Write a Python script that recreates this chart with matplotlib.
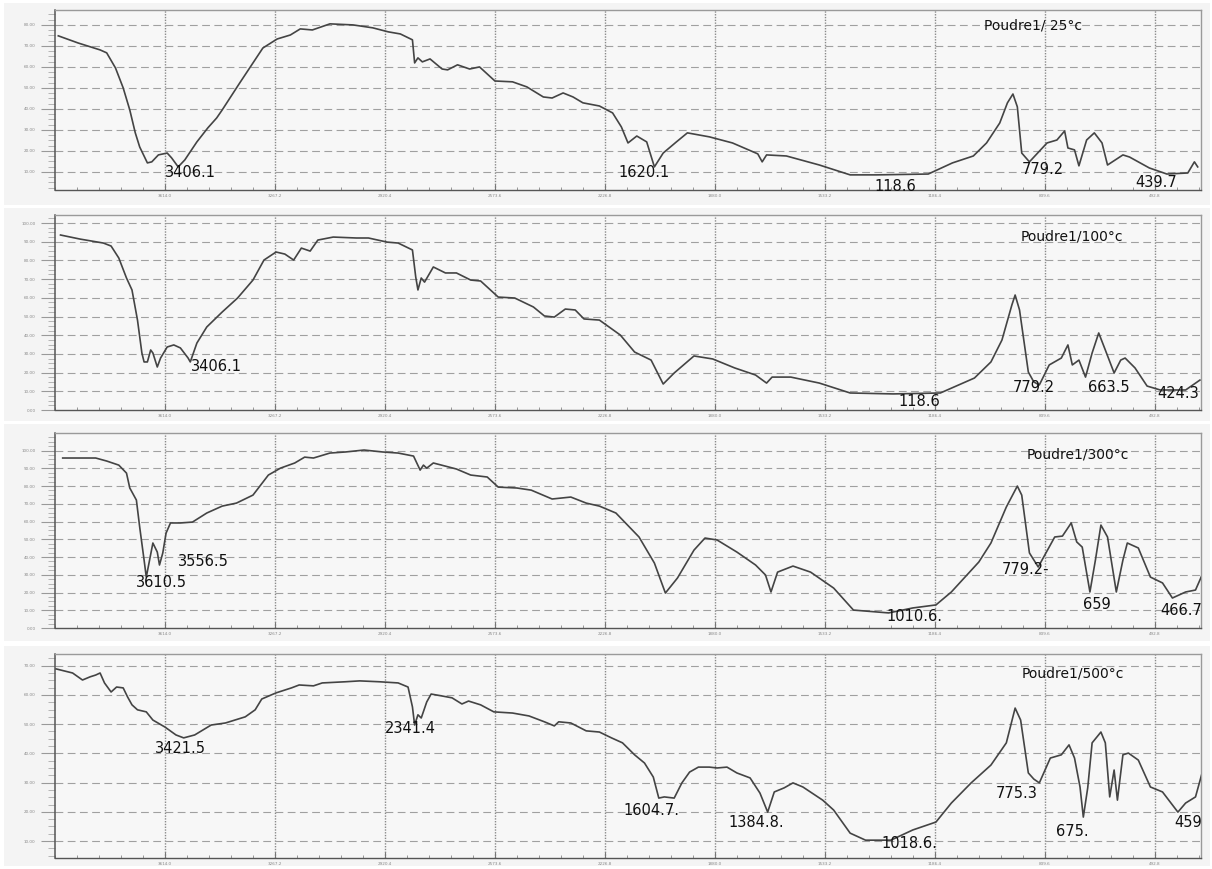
import matplotlib
matplotlib.use('Agg')
import matplotlib.pyplot as plt
from matplotlib.ticker import MultipleLocator, FixedLocator
from matplotlib.patches import Rectangle

# ---------------- data (x in grid units, y in panel transmittance units) ----------------
p1_x = [0.03, 0.21, 0.41, 0.47, 0.55, 0.62, 0.68, 0.73, 0.77, 0.84, 0.88, 0.94, 1.02, 1.06, 1.12, 1.18,
        1.29, 1.39, 1.47, 1.52, 1.68, 1.89, 2.02, 2.14, 2.23, 2.34, 2.50, 2.71, 2.89, 3.03, 3.14, 3.25,
        3.27, 3.30, 3.34, 3.41, 3.52, 3.57, 3.66, 3.77, 3.86, 4.00, 4.16, 4.29, 4.44, 4.52, 4.62, 4.71,
        4.80, 4.95, 5.07, 5.15, 5.21, 5.29, 5.38, 5.45, 5.53, 5.65, 5.75, 5.95, 6.16, 6.39, 6.43, 6.47,
        6.65, 6.95, 7.23, 7.47, 7.94, 8.16, 8.35, 8.47, 8.59, 8.66, 8.71, 8.75, 8.79, 8.86, 9.02, 9.11,
        9.18, 9.21, 9.27, 9.31, 9.38, 9.45, 9.52, 9.57, 9.71, 9.77, 9.95, 10.11, 10.30, 10.36, 10.39]
p1_y = [7.48, 7.14, 6.81, 6.67, 5.95, 5.00, 3.95, 2.86, 2.19, 1.43, 1.48, 1.81, 1.90, 1.67, 1.24, 1.57,
        2.43, 3.10, 3.57, 3.95, 5.24, 6.90, 7.33, 7.52, 7.81, 7.76, 8.05, 8.00, 7.86, 7.67, 7.57, 7.29,
        6.19, 6.43, 6.24, 6.38, 5.90, 5.86, 6.10, 5.90, 6.00, 5.33, 5.29, 5.05, 4.57, 4.52, 4.76, 4.57,
        4.29, 4.14, 3.81, 3.14, 2.38, 2.71, 2.43, 1.24, 1.90, 2.43, 2.86, 2.67, 2.38, 1.86, 1.48, 1.81,
        1.76, 1.33, 0.86, 0.86, 0.90, 1.43, 1.76, 2.38, 3.33, 4.29, 4.71, 4.10, 1.90, 1.48, 2.38, 2.52,
        2.95, 2.14, 2.05, 1.29, 2.52, 2.86, 2.38, 1.33, 1.81, 1.71, 1.19, 0.90, 0.95, 1.48, 1.24]

p2_x = [0.05, 0.23, 0.44, 0.51, 0.58, 0.65, 0.70, 0.75, 0.79, 0.81, 0.84, 0.87, 0.89, 0.93, 0.96, 1.02,
        1.08, 1.14, 1.21, 1.23, 1.29, 1.38, 1.52, 1.66, 1.80, 1.90, 2.01, 2.09, 2.17, 2.24, 2.32, 2.39,
        2.53, 2.74, 2.85, 3.02, 3.12, 3.25, 3.28, 3.30, 3.33, 3.36, 3.44, 3.55, 3.65, 3.78, 3.87, 4.03,
        4.18, 4.35, 4.45, 4.54, 4.64, 4.73, 4.81, 4.95, 5.14, 5.27, 5.42, 5.53, 5.63, 5.81, 5.98, 6.18,
        6.37, 6.47, 6.52, 6.69, 6.95, 7.23, 7.62, 8.05, 8.36, 8.51, 8.61, 8.70, 8.73, 8.77, 8.85, 8.90,
        8.95, 9.04, 9.15, 9.21, 9.25, 9.31, 9.37, 9.43, 9.49, 9.55, 9.63, 9.69, 9.73, 9.82, 9.93, 10.05,
        10.28, 10.41]
p2_y = [9.36, 9.14, 8.93, 8.77, 8.13, 7.06, 6.42, 4.81, 3.05, 2.57, 2.57, 3.21, 3.05, 2.30, 2.78, 3.37,
        3.48, 3.32, 2.78, 2.57, 3.58, 4.44, 5.24, 5.99, 6.95, 8.02, 8.45, 8.34, 8.02, 8.66, 8.50, 9.09,
        9.25, 9.20, 9.20, 8.98, 8.93, 8.56, 7.11, 6.42, 7.06, 6.84, 7.65, 7.33, 7.33, 6.95, 6.90, 6.04,
        5.99, 5.51, 5.03, 4.97, 5.40, 5.35, 4.87, 4.81, 4.01, 3.10, 2.67, 1.39, 1.98, 2.89, 2.73, 2.25,
        1.87, 1.44, 1.76, 1.76, 1.44, 0.91, 0.86, 0.91, 1.71, 2.57, 3.74, 5.61, 6.15, 5.35, 2.03, 1.50,
        1.34, 2.41, 2.78, 3.48, 2.41, 2.67, 1.76, 3.05, 4.12, 3.21, 1.98, 2.67, 2.78, 2.25, 1.28, 1.07,
        1.07, 1.60]

p3_x = [0.07, 0.23, 0.37, 0.47, 0.58, 0.65, 0.68, 0.74, 0.77, 0.81, 0.83, 0.86, 0.89, 0.93, 0.95, 0.98,
        1.01, 1.05, 1.14, 1.25, 1.38, 1.52, 1.65, 1.80, 1.94, 2.05, 2.18, 2.27, 2.35, 2.50, 2.64, 2.81,
        2.98, 3.12, 3.26, 3.32, 3.35, 3.38, 3.44, 3.65, 3.78, 3.93, 4.03, 4.20, 4.33, 4.52, 4.69, 4.83,
        4.95, 5.10, 5.31, 5.45, 5.55, 5.66, 5.81, 5.91, 6.02, 6.20, 6.37, 6.46, 6.51, 6.57, 6.71, 6.87,
        7.08, 7.26, 7.58, 7.80, 8.01, 8.15, 8.40, 8.51, 8.65, 8.75, 8.79, 8.86, 8.94, 9.09, 9.16, 9.24,
        9.29, 9.34, 9.41, 9.46, 9.51, 9.57, 9.65, 9.71, 9.75, 9.85, 9.96, 10.07, 10.16, 10.28, 10.37,
        10.45]
p3_y = [9.58, 9.58, 9.58, 9.41, 9.18, 8.73, 7.89, 7.21, 5.69, 3.83, 2.87, 3.83, 4.79, 4.28, 3.55, 4.23,
        5.35, 5.92, 5.92, 5.97, 6.48, 6.87, 7.04, 7.49, 8.62, 9.01, 9.30, 9.63, 9.58, 9.86, 9.92, 10.03,
        9.92, 9.86, 9.69, 8.90, 9.18, 9.01, 9.30, 8.96, 8.62, 8.51, 7.94, 7.89, 7.77, 7.27, 7.38, 7.04,
        6.87, 6.48, 5.13, 3.66, 1.97, 2.82, 4.39, 5.07, 4.96, 4.28, 3.55, 2.99, 2.03, 3.15, 3.49, 3.15,
        2.25, 1.01, 0.85, 1.13, 1.30, 2.03, 3.72, 4.79, 6.82, 8.00, 7.49, 4.23, 3.44, 5.13, 5.18, 5.92,
        4.85, 4.56, 2.03, 3.83, 5.80, 5.13, 2.03, 3.83, 4.79, 4.51, 2.87, 2.54, 1.69, 2.03, 2.14,
        3.27]

p4_x = [0.01, 0.16, 0.25, 0.32, 0.37, 0.41, 0.45, 0.51, 0.56, 0.62, 0.66, 0.70, 0.75, 0.83, 0.89, 1.00,
        1.10, 1.17, 1.27, 1.42, 1.55, 1.73, 1.82, 1.88, 2.01, 2.15, 2.22, 2.35, 2.43, 2.64, 2.77, 2.95,
        3.12, 3.21, 3.25, 3.27, 3.30, 3.33, 3.38, 3.42, 3.51, 3.61, 3.70, 3.76, 3.87, 3.99, 4.16, 4.31,
        4.45, 4.54, 4.58, 4.69, 4.83, 4.95, 5.06, 5.16, 5.27, 5.36, 5.44, 5.49, 5.54, 5.63, 5.70, 5.77,
        5.85, 5.95, 6.02, 6.11, 6.20, 6.32, 6.41, 6.48, 6.54, 6.63, 6.71, 6.80, 6.98, 7.08, 7.23, 7.37,
        7.60, 7.80, 8.01, 8.15, 8.33, 8.51, 8.65, 8.73, 8.78, 8.85, 8.90, 8.95, 9.05, 9.15, 9.22, 9.27,
        9.32, 9.35, 9.39, 9.43, 9.51, 9.55, 9.59, 9.63, 9.66, 9.71, 9.76, 9.85, 9.96, 10.07, 10.21,
        10.28, 10.37, 10.43]
p4_y = [6.89, 6.75, 6.51, 6.62, 6.68, 6.75, 6.41, 6.10, 6.27, 6.24, 5.93, 5.66, 5.49, 5.42, 5.14, 4.90,
        4.63, 4.53, 4.63, 4.97, 5.04, 5.25, 5.49, 5.86, 6.07, 6.24, 6.34, 6.31, 6.41, 6.45, 6.48, 6.45,
        6.41, 6.27, 5.59, 4.97, 5.32, 5.21, 5.76, 6.03, 5.97, 5.90, 5.69, 5.79, 5.66, 5.42, 5.38, 5.28,
        5.08, 4.94, 5.08, 5.04, 4.77, 4.73, 4.53, 4.36, 3.95, 3.67, 3.19, 2.47, 2.51, 2.47, 2.99, 3.36,
        3.53, 3.53, 3.50, 3.53, 3.33, 3.16, 2.64, 1.99, 2.68, 2.82, 2.99, 2.85, 2.40, 2.06, 1.27, 1.03,
        1.03, 1.38, 1.65, 2.30, 2.99, 3.60, 4.36, 5.55, 5.14, 3.33, 3.12, 2.99, 3.84, 3.95, 4.29, 3.84,
        2.85, 1.82, 2.82, 4.36, 4.73, 4.36, 2.51, 3.43, 2.40, 3.95, 4.01, 3.77, 2.85, 2.68, 1.99,
        2.30, 2.51, 3.33]

p1_title = 'Poudre1/ 25°c'
p2_title = 'Poudre1/100°c'
p3_title = 'Poudre1/300°c'
p4_title = 'Poudre1/500°c'

p1_labels = ['3406.1', '1620.1', '118.6', '779.2', '439.7']
p1_label_x = [1.00, 5.12, 7.45, 8.79, 9.82]
p1_label_y = [0.95, 0.95, 0.29, 1.10, 0.48]

p2_labels = ['3406.1', '118.6', '779.2', '663.5', '424.3']
p2_label_x = [1.24, 7.67, 8.71, 9.39, 10.02]
p2_label_y = [2.30, 0.48, 1.18, 1.18, 0.86]

p3_labels = ['3610.5', '3556.5', '1010.6.', '779.2-', '659', '466.7']
p3_label_x = [0.74, 1.12, 7.56, 8.61, 9.35, 10.05]
p3_label_y = [2.54, 3.77, 0.62, 3.32, 1.35, 1.01]

p4_labels = ['3421.5', '2341.4', '1604.7.', '1384.8.', '1018.6.', '775.3', '675.', '459']
p4_label_x = [0.91, 3.00, 5.17, 6.12, 7.51, 8.55, 9.10, 10.18]
p4_label_y = [4.18, 4.84, 2.03, 1.62, 0.93, 2.61, 1.34, 1.62]

x_grid_labels = ['3614.0', '3267.2', '2920.4', '2573.6', '2226.8', '1880.0', '1533.2', '1186.4', '839.6', '492.8']

# ---------------- layout ----------------
W, H = 1212, 869
fig = plt.figure(figsize=(W / 100, H / 100), dpi=100)
fig.patch.set_facecolor('white')


def px_axes(x0, y0, x1, y1):
    return fig.add_axes([x0 / W, 1 - y1 / H, (x1 - x0) / W, (y1 - y0) / H])


def bg(x0, y0, x1, y1):
    fig.patches.append(Rectangle((x0 / W, 1 - y1 / H), (x1 - x0) / W, (y1 - y0) / H,
                                 transform=fig.transFigure, facecolor='#f4f4f4',
                                 edgecolor='none', zorder=-10))


panels = [
    dict(bg=(4, 3, 1210, 205), box=(55, 10, 1201, 190), ylim=(0.14, 8.71), ngrid=8,
         x=p1_x, y=p1_y, title=p1_title, tpos=(8.45, 7.95),
         labels=p1_labels, lx=p1_label_x, ly=p1_label_y),
    dict(bg=(4, 208, 1210, 421), box=(55, 215, 1201, 410), ylim=(0.0, 10.43), ngrid=10,
         x=p2_x, y=p2_y, title=p2_title, tpos=(8.78, 9.30),
         labels=p2_labels, lx=p2_label_x, ly=p2_label_y),
    dict(bg=(4, 424, 1210, 641), box=(55, 433, 1201, 628), ylim=(0.0, 10.99), ngrid=10,
         x=p3_x, y=p3_y, title=p3_title, tpos=(8.83, 9.80),
         labels=p3_labels, lx=p3_label_x, ly=p3_label_y),
    dict(bg=(4, 646, 1210, 866), box=(55, 654, 1201, 858), ylim=(0.42, 7.40), ngrid=7,
         x=p4_x, y=p4_y, title=p4_title, tpos=(8.79, 6.72),
         labels=p4_labels, lx=p4_label_x, ly=p4_label_y),
]

for p in panels:
    bg(*p['bg'])
    ax = px_axes(*p['box'])
    ax.set_facecolor('#f7f7f7')
    ax.set_xlim(0, 10.42)
    ax.set_ylim(*p['ylim'])
    # grid
    for gx in range(1, 11):
        ax.axvline(gx, color='#8a8a8a', lw=1.0, ls=(0, (1, 1)), zorder=1)
    for gy in range(1, p['ngrid'] + 1):
        ax.axhline(gy, color='#a0a0a0', lw=0.8, ls=(0, (7, 4)), zorder=1)
    # spectrum
    ax.plot(p['x'], p['y'], color='#444444', lw=1.2, zorder=3, solid_joinstyle='round')
    # title
    ax.text(p['tpos'][0], p['tpos'][1], p['title'], fontsize=10, color='#111111',
            ha='left', va='center', zorder=4)
    for lab, lx, ly in zip(p['labels'], p['lx'], p['ly']):
        ax.text(lx, ly, lab, fontsize=10.5, color='#111111', ha='left', va='center',
                zorder=4, clip_on=False)
    # ticks
    ax.xaxis.set_major_locator(FixedLocator(list(range(1, 11))))
    ax.set_xticklabels(x_grid_labels)
    ax.xaxis.set_minor_locator(MultipleLocator(0.2))
    ax.tick_params(axis='x', which='major', direction='in', length=4, labelsize=3,
                   labelcolor='#888888', color='#777777', pad=3)
    ax.tick_params(axis='x', which='minor', direction='in', length=2, color='#888888')
    yt = list(range(0 if p['ylim'][0] <= 0 else 1, p['ngrid'] + 1))
    ax.yaxis.set_major_locator(FixedLocator(yt))
    ax.set_yticklabels(['%.2f' % (10.0 * v) for v in yt])
    ax.yaxis.set_minor_locator(MultipleLocator(0.25))
    ax.tick_params(axis='y', which='major', direction='out', length=10, labelsize=3,
                   labelcolor='#888888', color='#999999', pad=4)
    ax.tick_params(axis='y', which='minor', direction='out', length=5, color='#aaaaaa')
    for side, sp in ax.spines.items():
        sp.set_color('#555555' if side in ('left', 'bottom') else '#9a9a9a')
        sp.set_linewidth(1.1 if side == 'left' else 1.0)

fig.savefig('out.png', dpi=100, facecolor='white')
